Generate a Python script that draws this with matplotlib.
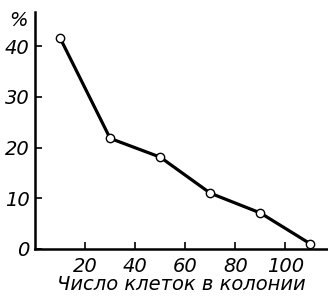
import matplotlib.pyplot as plt

# размер колонии (число клеток) и доля колоний, %
cells = [10, 30, 50, 70, 90, 110]
percent = [41.6, 21.8, 18.1, 11.0, 7.1, 1.0]
xticks = [20, 40, 60, 80, 100]
yticks = [0, 10, 20, 30, 40]

font = dict(family=['DejaVu Sans Condensed', 'DejaVu Sans'], style='italic', size=14)

fig = plt.figure(figsize=(3.28, 2.97), dpi=100)
ax = fig.add_axes([35 / 328, 48 / 297, 293 / 328, 237 / 297])

ax.plot(cells, percent, color='black', lw=2.3, marker='o', ms=6,
        mfc='white', mec='black', mew=1, clip_on=False, zorder=3)

ax.set_xlim(0, 117)
ax.set_ylim(0, 46.7)
ax.set_xticks(xticks)
ax.set_yticks(yticks)
ax.set_xticklabels([str(t) for t in xticks], fontdict=font)
ax.set_yticklabels([str(t) for t in yticks], fontdict=font)
ax.tick_params(direction='in', length=5, width=1.2, pad=4)
ax.tick_params(axis='x', pad=6)

for s in ['top', 'right']:
    ax.spines[s].set_visible(False)
for s in ['left', 'bottom']:
    ax.spines[s].set_linewidth(1.8)

ax.set_xlabel('Число клеток в колонии', fontdict=font, labelpad=-1)
fig.text(18 / 328, 1 - 20 / 297, '%', ha='center', va='center', **font)

fig.savefig('out.png', dpi=100)
